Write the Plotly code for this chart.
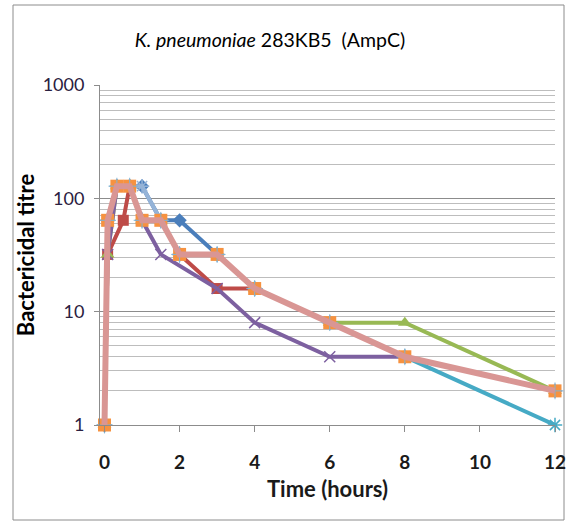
import plotly.graph_objects as go

# ---- data ----
t_std = [0, 0.083, 0.33, 0.67, 1, 1.5, 2, 3, 4, 6, 8, 12]
t_red = [0, 0.083, 0.5, 0.67, 1, 1.5, 2, 3, 4, 6, 8, 12]
t_purple = [0, 0.083, 0.33, 0.67, 1, 1.5, 3, 4, 6, 8, 12]

blue_vals = [1, 64, 128, 128, 128, 64, 64, 32, 16, 8, 4, 2]
red_vals = [1, 32, 64, 128, 64, 64, 32, 16, 16, 8, 4, 2]
green_vals = [1, 32, 128, 128, 64, 64, 32, 32, 16, 8, 8, 2]
purple_vals = [1, 32, 128, 128, 64, 32, 16, 8, 4, 4, 2]
aqua_vals = [1, 64, 128, 128, 64, 64, 32, 32, 16, 8, 4, 1]
lightblue_vals = [1, 64, 128, 128, 128, 64, 32, 32, 16, 8, 4, 2]
pink_vals = [1, 64, 128, 128, 64, 64, 32, 32, 16, 8, 4, 2]

x_ticks = [0, 2, 4, 6, 8, 10, 12]
y_ticks = [1, 10, 100, 1000]
y_ticklabels = ["1", "10", "100", "1000"]

title_html = "<i>K. pneumoniae</i> 283KB5  (AmpC)"
x_title = "Time (hours)"
y_title = "Bactericidal titre"

FONT = "Lato, 'Open Sans', sans-serif"

fig = go.Figure()

def add(x, y, color, width, symbol, msize, mcolor=None, mode="lines+markers", mline=None):
    fig.add_trace(go.Scatter(
        x=x, y=y, mode=mode,
        line=dict(color=color, width=width),
        marker=dict(symbol=symbol, size=msize, color=mcolor or color,
                    line=mline or dict(width=0)),
        showlegend=False, hoverinfo="x+y", cliponaxis=False))

add(t_std, blue_vals, "#4A7EBB", 4, "diamond", 11)
add(t_red, red_vals, "#BE4B48", 4, "square", 11)
add(t_std, green_vals, "#98B954", 4, "triangle-up", 12)
add(t_purple, purple_vals, "#7D60A0", 4, "x-thin", 11,
    mline=dict(width=1.5, color="#7D60A0"))
add(t_std, aqua_vals, "#46AAC5", 4, "asterisk", 12,
    mline=dict(width=1.5, color="#46AAC5"))
add(t_std, lightblue_vals, "#95B3D7", 4, "asterisk", 12,
    mline=dict(width=1.5, color="#95B3D7"))
# orange markers beneath the pink line
add(t_std, pink_vals, "#F69240", 0.1, "square", 13, mode="markers")
add(t_std, pink_vals, "#7FB2D4", 0.1, "cross-thin", 12, mode="markers",
    mline=dict(width=1, color="#7FB2D4"))
add(t_std, pink_vals, "#D99694", 6, "circle", 1, mode="lines")

W, H = 566, 521
L, R, T, B = 100, 11, 85, 96

fig.update_layout(
    width=W, height=H,
    margin=dict(l=L, r=R, t=T, b=B, autoexpand=False),
    paper_bgcolor="white", plot_bgcolor="white",
    font=dict(family=FONT, color="#1a1a1a"),
    title=dict(text=title_html, x=0.477, xref="container", xanchor="center",
               y=1 - 40 / H, yref="container", yanchor="middle",
               font=dict(size=19.5, family=FONT, color="black")),
    xaxis=dict(
        range=[-0.12, 12], tickvals=x_ticks, ticktext=[str(v) for v in x_ticks],
        showgrid=False, zeroline=False, automargin=False,
        showline=True, linecolor="#8C8C8C", linewidth=1,
        ticks="outside", ticklen=6, tickcolor="#8C8C8C",
        ticklabelstandoff=14, ticklabeloverflow="allow",
        tickfont=dict(size=19, family=FONT, color="#1a1a1a", weight="bold"),
        title=dict(text=x_title, standoff=9,
                   font=dict(size=22, family=FONT, color="#1a1a1a", weight="bold")),
    ),
    yaxis=dict(
        type="log", range=[0, 3], tickvals=y_ticks, ticktext=y_ticklabels,
        showgrid=True, gridcolor="#8C8C8C", gridwidth=1, zeroline=False,
        automargin=False,
        showline=True, linecolor="#8C8C8C", linewidth=1,
        ticks="outside", ticklen=5, tickcolor="#8C8C8C",
        ticklabelstandoff=6,
        tickfont=dict(size=18, family=FONT, color="#2a2040"),
        minor=dict(dtick="D1", showgrid=True, gridcolor="#BDBDBD", gridwidth=1, ticks=""),
        title=dict(text=y_title, standoff=1,
                   font=dict(size=22, family=FONT, color="black", weight="bold")),
    ),
)

# chart border
pw = W - L - R
ph = H - T - B
fig.add_shape(type="rect", xref="paper", yref="paper",
              x0=(13 - L) / pw, x1=(W - 2 - L) / pw,
              y0=-(B - 1) / ph, y1=1 + (T - 5) / ph,
              line=dict(color="#8C8C8C", width=1), layer="below")

fig.write_html("out.html", config={"displayModeBar": False},
               post_script="document.body.style.margin='0';document.body.style.overflow='hidden';")
